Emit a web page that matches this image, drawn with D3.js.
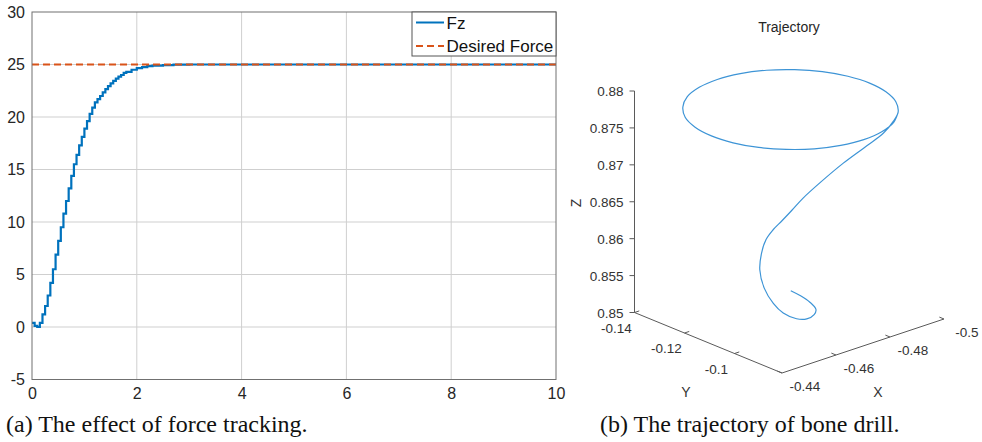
<!DOCTYPE html>
<html>
<head>
<meta charset="utf-8">
<script src="https://cdn.jsdelivr.net/npm/d3@7"></script>
<style>
  body { margin: 0; background: #fff; }
  svg text { font-family: "Liberation Sans", Arial, sans-serif; }
</style>
</head>
<body>
<div id="chart"></div>
<script>
// (a) force tracking data
const fzTime = [0, 0.05, 0.1, 0.15, 0.2, 0.25, 0.3, 0.35, 0.4, 0.45, 0.5, 0.55, 0.6, 0.65, 0.7, 0.75,
  0.8, 0.85, 0.9, 0.95, 1.0, 1.05, 1.1, 1.15, 1.2, 1.25, 1.3, 1.35, 1.4, 1.45, 1.5, 1.55, 1.6, 1.65,
  1.7, 1.75, 1.8, 1.9, 2.0, 2.1, 2.2, 2.3, 2.5, 2.7, 3.0, 10];
const fzValue = [0.4, 0.1, 0.0, 0.4, 1.2, 2.0, 3.0, 4.2, 5.5, 6.9, 8.2, 9.5, 10.8, 12.0, 13.2, 14.4,
  15.5, 16.4, 17.3, 18.1, 18.9, 19.6, 20.3, 20.9, 21.4, 21.7, 22.0, 22.35, 22.65, 22.95, 23.2, 23.45, 23.65, 23.85,
  24.0, 24.2, 24.3, 24.5, 24.65, 24.75, 24.85, 24.9, 24.95, 24.98, 25.0, 25.0];
const desiredForce = 25;
const xTicksA = [0, 2, 4, 6, 8, 10];
const yTicksA = [-5, 0, 5, 10, 15, 20, 25, 30];
const legendNames = ["Fz", "Desired Force"];

// (b) trajectory data (x, y, z), estimated from the projection
const trajX = [-0.4714, -0.4742, -0.4758, -0.4749, -0.4720, -0.4676, -0.4652, -0.4624, -0.4604, -0.4599, -0.4615,
  -0.4619, -0.4628, -0.4643, -0.4662, -0.4683, -0.4706, -0.4742, -0.4791, -0.4841, -0.4876, -0.4897, -0.4907,
  -0.4954, -0.4983, -0.4993, -0.4983, -0.4954, -0.4907, -0.4847, -0.4776, -0.4700, -0.4624, -0.4553, -0.4493,
  -0.4446, -0.4417, -0.4407, -0.4417, -0.4446, -0.4493, -0.4553, -0.4624, -0.4700, -0.4776, -0.4847, -0.4907];
const trajY = [-0.1114, -0.1107, -0.1085, -0.1051, -0.1027, -0.1009, -0.1024, -0.1047, -0.1065, -0.1096, -0.1131,
  -0.1128, -0.1120, -0.1108, -0.1093, -0.1076, -0.1057, -0.1027, -0.0987, -0.0947, -0.0918, -0.0901, -0.0893,
  -0.0953, -0.1024, -0.1100, -0.1176, -0.1247, -0.1307, -0.1354, -0.1383, -0.1393, -0.1383, -0.1354, -0.1307,
  -0.1247, -0.1176, -0.1100, -0.1024, -0.0953, -0.0893, -0.0846, -0.0817, -0.0807, -0.0817, -0.0846, -0.0893];
const trajZ = [0.8531, 0.8522, 0.8514, 0.8510, 0.8510, 0.8512, 0.8513, 0.8521, 0.8534, 0.8551, 0.8569,
  0.8592, 0.8610, 0.8623, 0.8635, 0.8649, 0.8665, 0.8686, 0.8712, 0.8735, 0.8752, 0.8768, 0.8780,
  0.878, 0.878, 0.878, 0.878, 0.878, 0.878, 0.878, 0.878, 0.878, 0.878, 0.878, 0.878,
  0.878, 0.878, 0.878, 0.878, 0.878, 0.878, 0.878, 0.878, 0.878, 0.878, 0.878, 0.878];
const xTicksB = [-0.44, -0.46, -0.48, -0.5];
const yTicksB = [-0.14, -0.12, -0.1];
const zTicksB = [0.85, 0.855, 0.86, 0.865, 0.87, 0.875, 0.88];

const width = 982, height = 442;
const fmt = d => String(d); // plain hyphen minus, as in the original
const svg = d3.select("#chart").append("svg")
  .attr("width", width).attr("height", height)
  .attr("viewBox", [0, 0, width, height]);
svg.append("rect").attr("width", width).attr("height", height).attr("fill", "#fff");

// ---------- (a) ----------
const mA = {left: 32, right: 556, top: 12, bottom: 379.5};
const x = d3.scaleLinear().domain([0, 10]).range([mA.left, mA.right]);
const y = d3.scaleLinear().domain([-5, 30]).range([mA.bottom, mA.top]);

const gA = svg.append("g");
gA.append("g").selectAll("line.v").data(xTicksA.slice(1, -1)).join("line")
  .attr("x1", d => x(d)).attr("x2", d => x(d))
  .attr("y1", mA.top).attr("y2", mA.bottom)
  .attr("stroke", "#cfcfcf").attr("stroke-width", 1);
gA.append("g").selectAll("line.h").data(yTicksA.slice(1, -1)).join("line")
  .attr("x1", mA.left).attr("x2", mA.right)
  .attr("y1", d => y(d)).attr("y2", d => y(d))
  .attr("stroke", "#cfcfcf").attr("stroke-width", 1);

gA.append("g")
  .attr("transform", `translate(0,${mA.bottom})`)
  .call(d3.axisBottom(x).tickValues(xTicksA).tickFormat(fmt).tickSize(0).tickPadding(8))
  .call(g => g.select(".domain").remove())
  .call(g => g.selectAll("text").attr("font-size", 16).attr("fill", "#262626"));
gA.append("g")
  .attr("transform", `translate(${mA.left},0)`)
  .call(d3.axisLeft(y).tickValues(yTicksA).tickFormat(fmt).tickSize(0).tickPadding(7))
  .call(g => g.select(".domain").remove())
  .call(g => g.selectAll("text").attr("font-size", 16).attr("fill", "#262626"));

gA.append("path")
  .datum(fzTime.map((t, i) => [t, fzValue[i]]))
  .attr("fill", "none").attr("stroke", "#0072BD").attr("stroke-width", 2.2)
  .attr("d", d3.line().x(d => x(d[0])).y(d => y(d[1])).curve(d3.curveStepAfter));

gA.append("line")
  .attr("x1", x(0)).attr("x2", x(10))
  .attr("y1", y(desiredForce)).attr("y2", y(desiredForce))
  .attr("stroke", "#D95319").attr("stroke-width", 2).attr("stroke-dasharray", "7,4");

gA.append("rect")
  .attr("x", mA.left).attr("y", mA.top)
  .attr("width", mA.right - mA.left).attr("height", mA.bottom - mA.top)
  .attr("fill", "none").attr("stroke", "#707070").attr("stroke-width", 1);

// legend
const lg = gA.append("g").attr("transform", `translate(412,${mA.top})`);
lg.append("rect").attr("width", mA.right - 412).attr("height", 44)
  .attr("fill", "#fff").attr("stroke", "#555").attr("stroke-width", 1);
lg.selectAll("line").data(legendNames).join("line")
  .attr("x1", 4).attr("x2", 32)
  .attr("y1", (d, i) => 10.5 + i * 23.5).attr("y2", (d, i) => 10.5 + i * 23.5)
  .attr("stroke", (d, i) => i ? "#D95319" : "#0072BD")
  .attr("stroke-width", 2)
  .attr("stroke-dasharray", (d, i) => i ? "7,4" : null);
lg.selectAll("text").data(legendNames).join("text")
  .attr("x", 34.5).attr("y", (d, i) => 16.5 + i * 23.5)
  .attr("font-size", 17).attr("fill", "#111")
  .text(d => d);

svg.append("text").attr("x", 6).attr("y", 432)
  .style("font-family", "'Liberation Serif', 'Times New Roman', serif")
  .attr("font-size", 24).attr("fill", "#111")
  .text("(a) The effect of force tracking.");

// ---------- (b) ----------
const px = d3.scaleLinear().domain([-0.44, -0.5]).range([0, 1]);
const py = d3.scaleLinear().domain([-0.081, -0.14]).range([0, 1]);
const pz = d3.scaleLinear().domain([0.85, 0.88]).range([0, 1]);
const O = [782, 373], ex = [162, -54], ey = [-147.5, -60.5], ez = [0, -221.5];
const proj = (a, b, c) => [
  O[0] + px(a) * ex[0] + py(b) * ey[0] + pz(c) * ez[0],
  O[1] + px(a) * ex[1] + py(b) * ey[1] + pz(c) * ez[1]
];

const gB = svg.append("g");
const axisColor = "#5a5a5a", labelColor = "#333";
const seg = (p, q) => gB.append("line")
  .attr("x1", p[0]).attr("y1", p[1]).attr("x2", q[0]).attr("y2", q[1])
  .attr("stroke", axisColor).attr("stroke-width", 1);

// axis lines
const yEnd = py.domain()[1], xEnd = px.domain()[1];
seg(proj(-0.44, yEnd, 0.85), proj(-0.44, yEnd, 0.88));   // Z
seg(proj(-0.44, yEnd, 0.85), proj(-0.44, -0.081, 0.85)); // Y
seg(proj(-0.44, -0.081, 0.85), proj(xEnd, -0.081, 0.85)); // X

const unit = v => { const l = Math.hypot(v[0], v[1]); return [v[0] / l, v[1] / l]; };
const ux = unit(ex), uy = unit(ey), tl = 5;

zTicksB.forEach(d => {
  const p = proj(-0.44, yEnd, d);
  seg(p, [p[0] - tl, p[1]]);
  gB.append("text").attr("x", p[0] - 11).attr("y", p[1] + 5)
    .attr("text-anchor", "end").attr("font-size", 13.5).attr("fill", labelColor)
    .text(fmt(d));
});
yTicksB.forEach(d => {
  const p = proj(-0.44, d, 0.85);
  seg(p, [p[0] + ux[0] * tl, p[1] + ux[1] * tl]);
  gB.append("text").attr("x", p[0] - 18).attr("y", p[1] + 20)
    .attr("text-anchor", "middle").attr("font-size", 13.5).attr("fill", labelColor)
    .text(fmt(d));
});
xTicksB.forEach(d => {
  const p = proj(d, -0.081, 0.85);
  seg(p, [p[0] + uy[0] * tl, p[1] + uy[1] * tl]);
  gB.append("text").attr("x", p[0] + 23).attr("y", p[1] + 18)
    .attr("text-anchor", "middle").attr("font-size", 13.5).attr("fill", labelColor)
    .text(fmt(d));
});

gB.append("text").attr("transform", "translate(581,203) rotate(-90)")
  .attr("text-anchor", "middle").attr("font-size", 14).attr("fill", labelColor).text("Z");
gB.append("text").attr("x", 686).attr("y", 397)
  .attr("text-anchor", "middle").attr("font-size", 14).attr("fill", labelColor).text("Y");
gB.append("text").attr("x", 878).attr("y", 397)
  .attr("text-anchor", "middle").attr("font-size", 14).attr("fill", labelColor).text("X");

gB.append("text").attr("x", 789).attr("y", 32)
  .attr("text-anchor", "middle").attr("font-size", 14).attr("fill", "#262626").text("Trajectory");

gB.append("path")
  .datum(trajX.map((d, i) => proj(d, trajY[i], trajZ[i])))
  .attr("fill", "none").attr("stroke", "#3d94d6").attr("stroke-width", 1.2)
  .attr("d", d3.line().curve(d3.curveCatmullRom));

svg.append("text").attr("x", 600).attr("y", 432)
  .style("font-family", "'Liberation Serif', 'Times New Roman', serif")
  .attr("font-size", 24).attr("fill", "#111")
  .text("(b) The trajectory of bone drill.");
</script>
</body>
</html>
